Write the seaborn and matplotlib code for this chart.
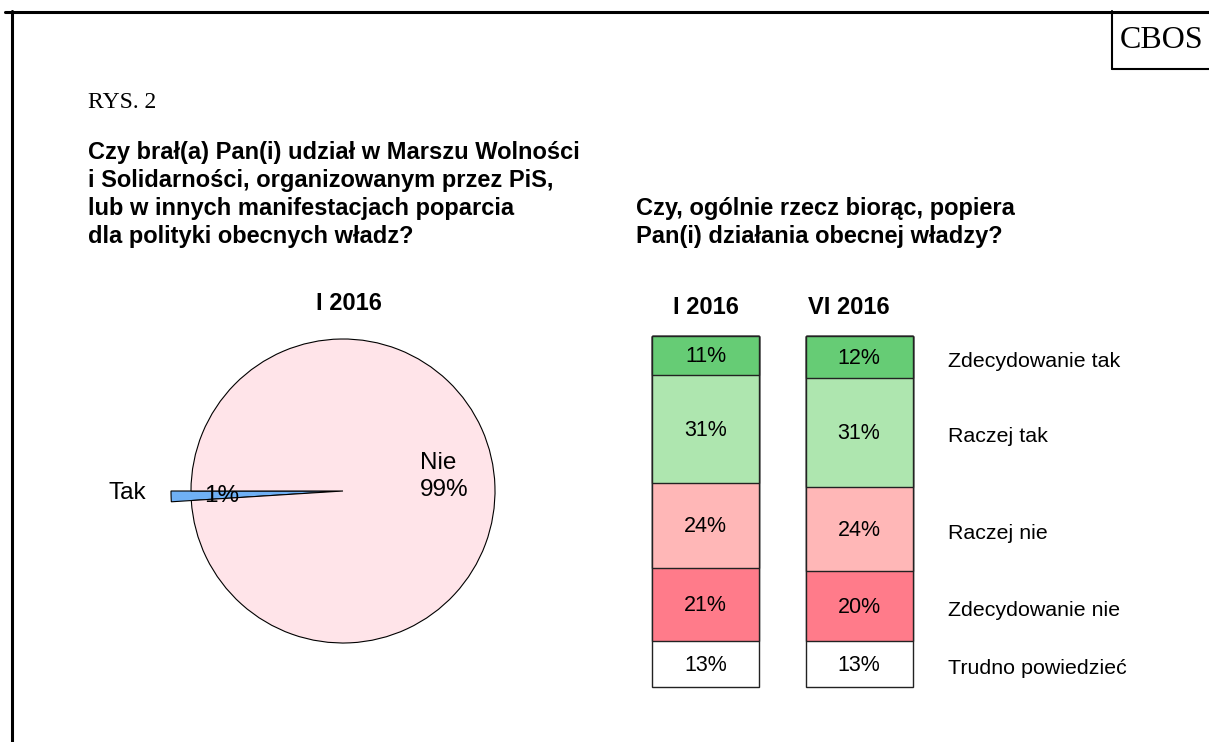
import matplotlib
matplotlib.use("Agg")
import matplotlib.pyplot as plt
import seaborn as sns
import pandas as pd
from matplotlib.lines import Line2D

# ---------------- data ----------------
pie_labels = ["Tak", "Nie"]
pie_values = [1, 99]

periods = ["I 2016", "VI 2016"]
categories = ["Zdecydowanie tak", "Raczej tak", "Raczej nie",
              "Zdecydowanie nie", "Trudno powiedzieć"]
values_I = [11, 31, 24, 21, 13]
values_VI = [12, 31, 24, 20, 13]

title_left = ["Czy brał(a) Pan(i) udział w Marszu Wolności",
              "i Solidarności, organizowanym przez PiS,",
              "lub w innych manifestacjach poparcia",
              "dla polityki obecnych władz?"]
title_right = ["Czy, ogólnie rzecz biorąc, popiera",
               "Pan(i) działania obecnej władzy?"]

cat_colors = ["#66CC75", "#AEE6AF", "#FFB7B7", "#FF7B8A", "#FFFFFF"]
pie_colors = ["#6FB0F5", "#FFE4E9"]

# ---------------- figure ----------------
sns.set_theme(style="white")
plt.rcParams["font.family"] = ["Liberation Sans", "DejaVu Sans"]
plt.rcParams["text.color"] = "black"

W, H = 1209, 742
fig = plt.figure(figsize=(W / 100, H / 100), dpi=100)
fig.patch.set_facecolor("white")


def fx(x):
    return x / W


def fy(y):
    return 1 - y / H


def ftext(x, y, s, **kw):
    kw.setdefault("color", "black")
    fig.text(fx(x), fy(y), s, **kw)


# frame lines
fig.add_artist(Line2D([fx(5), 1], [fy(11.5), fy(11.5)], color="black", lw=2.2))
fig.add_artist(Line2D([fx(12), fx(12)], [fy(11), 0], color="black", lw=2.2))
# CBOS box
fig.add_artist(Line2D([fx(1112), fx(1112)], [fy(11), fy(69)], color="black", lw=1.5))
fig.add_artist(Line2D([fx(1112), 1], [fy(69), fy(69)], color="black", lw=1.5))
ftext(1162, 41, "CBOS", family="Liberation Serif", fontsize=23,
      ha="center", va="center")

ftext(88, 103, "RYS. 2", family="Liberation Serif", fontsize=17,
      ha="left", va="center")

for i, line in enumerate(title_left):
    ftext(88, 158.5 + 28 * i, line, fontsize=17, fontweight="bold",
          ha="left", va="baseline")
for i, line in enumerate(title_right):
    ftext(636, 214.5 + 28 * i, line, fontsize=17, fontweight="bold",
          ha="left", va="baseline")

# ---------------- pie ----------------
cx, cy, r = 343, 491, 152
half = 220
axp = fig.add_axes([fx(cx - half), fy(cy + half), 2 * half / W, 2 * half / H])
wedges, _ = axp.pie(pie_values, startangle=180, counterclock=True,
                    colors=pie_colors, radius=1,
                    wedgeprops=dict(edgecolor="black", linewidth=0.8))
wedges[0].set_radius(172 / 152)
lim = half / r
axp.set_xlim(-lim, lim)
axp.set_ylim(-lim, lim)
axp.set_axis_off()

ftext(349, 304, "I 2016", fontsize=17, fontweight="bold", ha="center", va="center")
ftext(127, 493, pie_labels[0], fontsize=17.5, ha="center", va="center")
ftext(222, 496, f"{pie_values[0]}%", fontsize=17.5, ha="center", va="center")
ftext(420, 463, pie_labels[1], fontsize=17.5, ha="left", va="center")
ftext(420, 490, f"{pie_values[1]}%", fontsize=17.5, ha="left", va="center")

# ---------------- stacked bars ----------------
x0_px, x1_px = 705.5, 859
step = x1_px - x0_px
top_px, bot_px = 336, 687
axb = fig.add_axes([fx(x0_px - step / 2), fy(bot_px), 2 * step / W,
                    (bot_px - top_px) / H])

rows = []
for p, vals in zip(periods, [values_I, values_VI]):
    cum = 0
    for c, v in zip(categories, vals):
        rows.append(dict(period=p, category=c, value=v, start=cum, end=cum + v))
        cum += v
df = pd.DataFrame(rows)

for c, col in reversed(list(zip(categories, cat_colors))):
    sub = df[df.category == c]
    sns.barplot(data=sub, x="period", y="end", order=periods, color=col,
                saturation=1, edgecolor="#222222", linewidth=1.0,
                width=107 / step, errorbar=None, ax=axb)
for patch in axb.patches:
    patch.set_clip_on(False)

axb.set_xlim(-0.5, 1.5)
axb.set_ylim(100, 0)
axb.set_axis_off()

for _, row in df.iterrows():
    xi = periods.index(row.period)
    axb.text(xi, (row.start + row.end) / 2 + 0.4, f"{row.value}%",
             fontsize=15.5, ha="center", va="center", color="black")

label_x = 1.5 + (948 - (x1_px + step / 2)) / step
sub = df[df.period == periods[1]]
for _, row in sub.iterrows():
    axb.text(label_x, (row.start + row.end) / 2 + 1.2, row.category,
             fontsize=15.4, ha="left", va="center", clip_on=False, color="black")

ftext(706, 307, periods[0], fontsize=17, fontweight="bold", ha="center", va="center")
ftext(849, 307, periods[1], fontsize=17, fontweight="bold", ha="center", va="center")

fig.savefig("out.png", dpi=100)
